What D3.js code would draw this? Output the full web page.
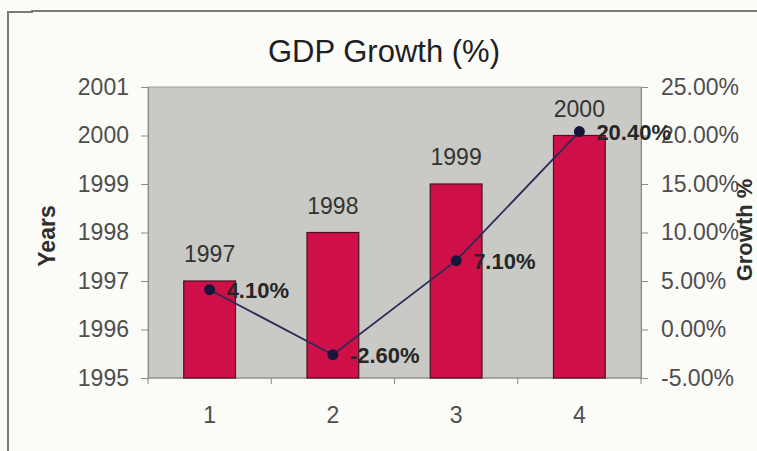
<!DOCTYPE html>
<html>
<head>
<meta charset="utf-8">
<script src="https://cdn.jsdelivr.net/npm/d3@7"></script>
<style>
  html, body { margin: 0; padding: 0; background: #fbfbf8; }
  svg { display: block; font-family: "Liberation Sans", Arial, sans-serif; }
</style>
</head>
<body>
<svg id="chart" width="757" height="451"></svg>
<script>
// Chart data
const categories = ["1", "2", "3", "4"];
const years = [1997, 1998, 1999, 2000];
const growth = [4.1, -2.6, 7.1, 20.4];
const yearTicks = [1995, 1996, 1997, 1998, 1999, 2000, 2001];
const growthTicks = [-5, 0, 5, 10, 15, 20, 25];

const svg = d3.select("#chart");
const W = 757, H = 451;
const plot = { left: 148, right: 641, top: 87, bottom: 378 };

// percentage text with a plain hyphen for negatives
const pct = d => d3.format(".2f")(d).replace("\u2212", "-") + "%";

// outer frame of the chart area
svg.append("rect").attr("width", W).attr("height", H).attr("fill", "#fbfbf8");
svg.append("path")
  .attr("d", `M8,${H + 2} L8,12 L32,12 L32,11 L${W + 2},11`)
  .attr("fill", "none").attr("stroke", "#7a7a7a").attr("stroke-width", 2);

const x = d3.scaleBand().domain(categories)
  .range([plot.left, plot.right]).paddingInner(0.58).paddingOuter(0.29);
const xCenter = d3.scaleBand().domain(categories).range([plot.left, plot.right]);
const yLeft = d3.scaleLinear().domain([1995, 2001]).range([plot.bottom, plot.top]);
const yRight = d3.scaleLinear().domain([-5, 25]).range([plot.bottom, plot.top]);

// plot area
svg.append("rect")
  .attr("x", plot.left).attr("y", plot.top)
  .attr("width", plot.right - plot.left).attr("height", plot.bottom - plot.top)
  .attr("fill", "#c9c9c5").attr("stroke", "#a0a09c").attr("stroke-width", 1);

// title
svg.append("text")
  .attr("x", 384).attr("y", 62)
  .attr("text-anchor", "middle")
  .attr("font-size", 31).attr("fill", "#1e1e24")
  .text("GDP Growth (%)");

// axes
const axisColor = "#8a8a88";
const tickText = "#4e4e4e";

const leftAxis = svg.append("g")
  .attr("transform", `translate(${plot.left},0)`)
  .call(d3.axisLeft(yLeft).tickValues(yearTicks).tickFormat(d3.format("d")).tickSize(7).tickPadding(12));
const rightAxis = svg.append("g")
  .attr("transform", `translate(${plot.right},0)`)
  .call(d3.axisRight(yRight).tickValues(growthTicks).tickFormat(pct).tickSize(7).tickPadding(13));
const bottomAxis = svg.append("g")
  .attr("transform", `translate(0,${plot.bottom})`)
  .call(d3.axisBottom(xCenter).tickSize(0).tickPadding(29));

// category boundary ticks on the bottom axis
svg.append("g").selectAll("line")
  .data(d3.range(categories.length + 1))
  .join("line")
  .attr("x1", i => plot.left + i * xCenter.step())
  .attr("x2", i => plot.left + i * xCenter.step())
  .attr("y1", plot.bottom).attr("y2", plot.bottom + 6)
  .attr("stroke", axisColor);

[leftAxis, rightAxis, bottomAxis].forEach(g => {
  g.select(".domain").attr("stroke", axisColor);
  g.selectAll(".tick line").attr("stroke", axisColor);
  g.selectAll(".tick text")
    .attr("font-size", 23).attr("fill", tickText)
    .attr("font-family", "'Liberation Sans', Arial, sans-serif");
});
bottomAxis.select(".domain").attr("d", `M${plot.left},0H${plot.right}`);

// axis titles
svg.append("text")
  .attr("transform", "translate(55,236) rotate(-90)")
  .attr("text-anchor", "middle")
  .attr("font-size", 23).attr("font-weight", "bold").attr("fill", "#2e2e2e")
  .text("Years");
svg.append("text")
  .attr("transform", "translate(752,230) rotate(-90)")
  .attr("text-anchor", "middle")
  .attr("font-size", 22).attr("font-weight", "bold").attr("fill", "#2e2e2e")
  .text("Growth %");

// bars
svg.append("g").selectAll("rect")
  .data(years)
  .join("rect")
  .attr("x", (d, i) => x(categories[i]))
  .attr("width", x.bandwidth())
  .attr("y", d => yLeft(d))
  .attr("height", d => yLeft(1995) - yLeft(d))
  .attr("fill", "#cf1048")
  .attr("stroke", "#4a1020").attr("stroke-width", 1.2);

// year labels above bars
svg.append("g").selectAll("text")
  .data(years)
  .join("text")
  .attr("x", (d, i) => xCenter(categories[i]) + xCenter.bandwidth() / 2)
  .attr("y", d => yLeft(d) - 19)
  .attr("text-anchor", "middle")
  .attr("font-size", 23).attr("fill", "#333")
  .text(d => d);

// growth line
const cx = i => xCenter(categories[i]) + xCenter.bandwidth() / 2;
svg.append("path")
  .datum(growth)
  .attr("d", d3.line().x((d, i) => cx(i)).y(d => yRight(d)))
  .attr("fill", "none").attr("stroke", "#2b2b58").attr("stroke-width", 1.8);

svg.append("g").selectAll("circle")
  .data(growth)
  .join("circle")
  .attr("cx", (d, i) => cx(i))
  .attr("cy", d => yRight(d))
  .attr("r", 5.5)
  .attr("fill", "#161638");

// growth value labels
svg.append("g").selectAll("text")
  .data(growth)
  .join("text")
  .attr("x", (d, i) => cx(i) + 17)
  .attr("y", d => yRight(d))
  .attr("dy", "0.36em")
  .attr("font-size", 22).attr("font-weight", "bold").attr("fill", "#262626")
  .text(pct);
</script>
</body>
</html>
